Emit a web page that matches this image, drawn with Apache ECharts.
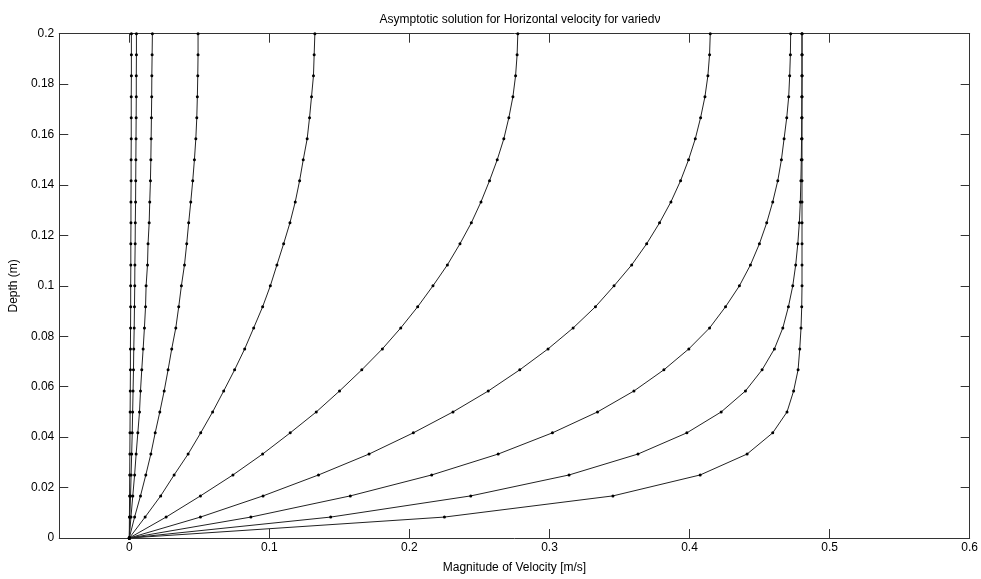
<!DOCTYPE html>
<html>
<head>
<meta charset="utf-8">
<script src="https://cdn.jsdelivr.net/npm/echarts@6/dist/echarts.min.js"></script>
<style>
  html, body { margin: 0; padding: 0; background: #fff; }
  #chart { width: 981px; height: 579px; }
</style>
</head>
<body>
<div id="chart"></div>
<script>
// Depth of each sample point (m), bottom to top
const depth = [0, 0.0083, 0.0167, 0.025, 0.0333, 0.0417, 0.05, 0.0583, 0.0667, 0.075,
  0.0833, 0.0917, 0.1, 0.1083, 0.1167, 0.125, 0.1333, 0.1417, 0.15, 0.1583,
  0.1667, 0.175, 0.1833, 0.1917, 0.2];

// Velocity magnitude (m/s) at each depth, one profile per viscosity
const profile1 = [0, 0.0001, 0.0002, 0.0003, 0.0004, 0.0005, 0.0006, 0.0007, 0.0008, 0.0008,
  0.0009, 0.001, 0.001, 0.0011, 0.0011, 0.0012, 0.0012, 0.0013, 0.0013, 0.0014,
  0.0014, 0.0014, 0.0015, 0.0015, 0.0015];
const profile2 = [0, 0.0004, 0.0009, 0.0013, 0.0017, 0.0021, 0.0024, 0.0027, 0.003, 0.0032,
  0.0035, 0.0037, 0.0039, 0.004, 0.0042, 0.0043, 0.0045, 0.0046, 0.0047, 0.0048,
  0.0049, 0.005, 0.005, 0.0051, 0.0051];
const profile3 = [0, 0.0012, 0.0025, 0.0038, 0.0049, 0.0061, 0.0073, 0.008, 0.0089, 0.0099,
  0.0108, 0.0116, 0.012, 0.013, 0.0134, 0.0142, 0.0146, 0.0151, 0.0154, 0.0156,
  0.0158, 0.016, 0.0161, 0.0163, 0.0165];
const profile4 = [0, 0.0038, 0.008, 0.0118, 0.0154, 0.0185, 0.0218, 0.0249, 0.0277, 0.0303,
  0.0332, 0.0353, 0.0372, 0.0394, 0.041, 0.0424, 0.0439, 0.0453, 0.0465, 0.0475,
  0.0482, 0.0486, 0.0489, 0.0491, 0.0491];
const profile5 = [0, 0.0113, 0.0224, 0.032, 0.042, 0.051, 0.0595, 0.0674, 0.0752, 0.0824,
  0.0888, 0.0952, 0.1007, 0.1054, 0.1102, 0.1147, 0.1185, 0.1216, 0.1242, 0.127,
  0.1287, 0.1301, 0.1315, 0.132, 0.1325];
const profile6 = [0, 0.0263, 0.0508, 0.074, 0.0952, 0.1149, 0.1335, 0.1501, 0.166, 0.1807,
  0.1938, 0.2059, 0.2168, 0.2271, 0.2361, 0.2442, 0.2511, 0.2572, 0.2627, 0.2674,
  0.271, 0.2739, 0.2758, 0.2769, 0.2774];
const profile7 = [0, 0.0508, 0.0955, 0.1351, 0.1712, 0.2028, 0.2311, 0.2563, 0.2788, 0.299,
  0.3169, 0.3328, 0.3461, 0.3587, 0.3694, 0.3786, 0.3867, 0.3936, 0.3993, 0.4041,
  0.4079, 0.411, 0.4131, 0.4143, 0.4148];
const profile8 = [0, 0.0868, 0.1578, 0.2159, 0.2634, 0.3021, 0.3343, 0.3603, 0.3817, 0.3995,
  0.4143, 0.4257, 0.4356, 0.4435, 0.4499, 0.4551, 0.4594, 0.463, 0.4656, 0.4675,
  0.4694, 0.4708, 0.4715, 0.472, 0.4722];
const profile9 = [0, 0.1438, 0.2438, 0.314, 0.3632, 0.3981, 0.4226, 0.4399, 0.4518, 0.4606,
  0.4666, 0.4706, 0.4737, 0.4758, 0.4773, 0.4784, 0.4791, 0.4795, 0.4798, 0.48,
  0.4801, 0.4802, 0.4803, 0.4803, 0.4803];
const profile10 = [0, 0.225, 0.3453, 0.4076, 0.4411, 0.4594, 0.4696, 0.4743, 0.4775, 0.4787,
  0.4796, 0.4801, 0.4803, 0.4803, 0.4803, 0.4803, 0.4803, 0.4803, 0.4803, 0.4803,
  0.4803, 0.4803, 0.4803, 0.4803, 0.4803];

const profiles = [profile1, profile2, profile3, profile4, profile5,
  profile6, profile7, profile8, profile9, profile10];

// Tick positions
const xTicks = [0, 0.1, 0.2, 0.3, 0.4, 0.5, 0.6];
const yTicks = [0, 0.02, 0.04, 0.06, 0.08, 0.1, 0.12, 0.14, 0.16, 0.18, 0.2];

const FONT = '"Liberation Sans", Arial, Helvetica, sans-serif';
const AXIS_COLOR = '#333';
const fmt = v => String(parseFloat(Number(v).toFixed(3)));

const chart = echarts.init(document.getElementById('chart'), null, { renderer: 'canvas' });

const boxLine = { show: true, onZero: false, lineStyle: { color: AXIS_COLOR, width: 1 } };
const innerTick = values => ({
  show: true, inside: true, length: 9, customValues: values,
  lineStyle: { color: AXIS_COLOR, width: 1 }
});

chart.setOption({
  animation: false,
  backgroundColor: '#fff',
  title: {
    text: 'Asymptotic solution for Horizontal velocity for variedν',
    left: 515, top: 9, textAlign: 'center',
    textStyle: { fontFamily: FONT, fontSize: 12, fontWeight: 'normal', color: '#000' }
  },
  grid: { left: 58.6, right: 10.1, top: 33.7, bottom: 33.7, containLabel: false },
  xAxis: [{
    type: 'value', position: 'bottom', min: -0.05, max: 0.6,
    axisLine: boxLine,
    axisTick: innerTick(xTicks),
    axisLabel: {
      customValues: xTicks, formatter: fmt, margin: 4,
      fontFamily: FONT, fontSize: 12, color: '#000'
    },
    splitLine: { show: false },
    name: 'Magnitude of Velocity [m/s]', nameLocation: 'middle', nameGap: 24,
    nameTextStyle: { fontFamily: FONT, fontSize: 12, color: '#000' }
  }, {
    type: 'value', position: 'top', min: -0.05, max: 0.6,
    axisLine: boxLine,
    axisTick: innerTick(xTicks),
    axisLabel: { show: false },
    splitLine: { show: false }
  }],
  yAxis: [{
    type: 'value', position: 'left', min: 0, max: 0.2, interval: 0.02,
    axisLine: boxLine,
    axisTick: innerTick(yTicks),
    axisLabel: {
      customValues: yTicks, formatter: fmt, margin: 5,
      fontFamily: FONT, fontSize: 12, color: '#000'
    },
    splitLine: { show: false },
    name: 'Depth (m)', nameLocation: 'middle', nameGap: 33, nameRotate: 90,
    nameTextStyle: { fontFamily: FONT, fontSize: 12, color: '#000' }
  }, {
    type: 'value', position: 'right', min: 0, max: 0.2, interval: 0.02,
    axisLine: boxLine,
    axisTick: innerTick(yTicks),
    axisLabel: { show: false },
    splitLine: { show: false }
  }],
  series: profiles.map((vals, idx) => ({
    name: 'profile' + (idx + 1),
    type: 'line',
    xAxisIndex: 0, yAxisIndex: 0,
    data: vals.map((v, i) => [v, depth[i]]),
    symbol: 'circle', symbolSize: 3,
    showSymbol: true,
    itemStyle: { color: '#000' },
    lineStyle: { color: '#222', width: 1 },
    emphasis: { disabled: true },
    silent: true
  }))
});
</script>
</body>
</html>
